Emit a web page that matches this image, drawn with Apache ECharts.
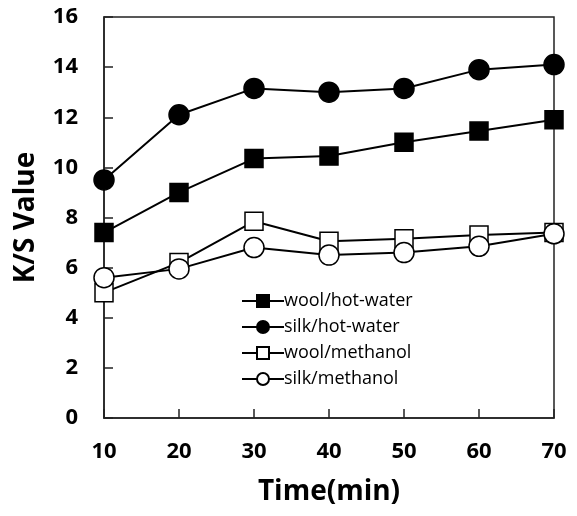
<!DOCTYPE html>
<html>
<head>
<meta charset="utf-8">
<script src="https://cdn.jsdelivr.net/npm/echarts@6/dist/echarts.min.js"></script>
<style>
html,body{margin:0;padding:0;background:#fff;}
#chart{width:577px;height:516px;}
</style>
</head>
<body>
<div id="chart"></div>
<script>
var times = [10, 20, 30, 40, 50, 60, 70];
var woolHotWater = [7.4, 9.0, 10.35, 10.45, 11.0, 11.45, 11.9];
var silkHotWater = [9.5, 12.1, 13.15, 13.0, 13.15, 13.9, 14.1];
var woolMethanol = [5.0, 6.2, 7.85, 7.05, 7.15, 7.3, 7.4];
var silkMethanol = [5.6, 5.95, 6.8, 6.5, 6.6, 6.85, 7.35];
var seriesNames = ['wool/hot-water', 'silk/hot-water', 'wool/methanol', 'silk/methanol'];

function pairs(ys) { return times.map(function (t, i) { return [t, ys[i]]; }); }

var FONT = '"Open Sans", "Noto Sans", sans-serif';
var chart = echarts.init(document.getElementById('chart'), null, {renderer: 'canvas'});

function mk(name, ys, symbol, size, filled) {
  return {
    name: name, type: 'line', data: pairs(ys),
    symbol: symbol, symbolSize: size,
    lineStyle: {color: '#000', width: 2},
    itemStyle: {color: filled ? '#000' : '#fff', borderColor: '#000', borderWidth: 1.5},
    z: filled ? 3 : 4,
    animation: false
  };
}

chart.setOption({
  animation: false,
  backgroundColor: '#fff',
  grid: {left: 104, right: 23, top: 17, bottom: 98, show: true, borderColor: '#222', borderWidth: 1.5, backgroundColor: 'transparent'},
  xAxis: {
    type: 'value', min: 10, max: 70, interval: 10,
    name: 'Time(min)', nameLocation: 'middle', nameGap: 60,
    nameTextStyle: {fontFamily: FONT, fontWeight: 'bold', fontSize: 28, color: '#000'},
    axisLine: {show: true, lineStyle: {color: '#222', width: 1.5}},
    axisTick: {show: true, inside: true, length: 9, lineStyle: {color: '#222', width: 1.5}},
    axisLabel: {fontFamily: FONT, fontWeight: 'bold', fontSize: 22, color: '#000', margin: 23},
    splitLine: {show: false}
  },
  yAxis: {
    type: 'value', min: 0, max: 16, interval: 2,
    name: 'K/S Value', nameLocation: 'middle', nameGap: 64,
    nameTextStyle: {fontFamily: FONT, fontWeight: 'bold', fontSize: 28, color: '#000'},
    axisLine: {show: true, lineStyle: {color: '#222', width: 1.5}},
    axisTick: {show: true, inside: true, length: 9, lineStyle: {color: '#222', width: 1.5}},
    axisLabel: {fontFamily: FONT, fontWeight: 'bold', fontSize: 22, color: '#000', margin: 26},
    splitLine: {show: false}
  },
  legend: {
    left: 236, top: 287, orient: 'vertical',
    itemWidth: 42, itemHeight: 15, itemGap: 8,
    textStyle: {fontFamily: FONT, fontSize: 18, lineHeight: 18, color: '#000', padding: [0, 0, 0, -5]},
    data: seriesNames
  },
  series: [
    mk(seriesNames[0], woolHotWater, 'rect', 18, true),
    mk(seriesNames[1], silkHotWater, 'circle', 20, true),
    mk(seriesNames[2], woolMethanol, 'rect', 18, false),
    mk(seriesNames[3], silkMethanol, 'circle', 20, false)
  ]
});
</script>
</body>
</html>
